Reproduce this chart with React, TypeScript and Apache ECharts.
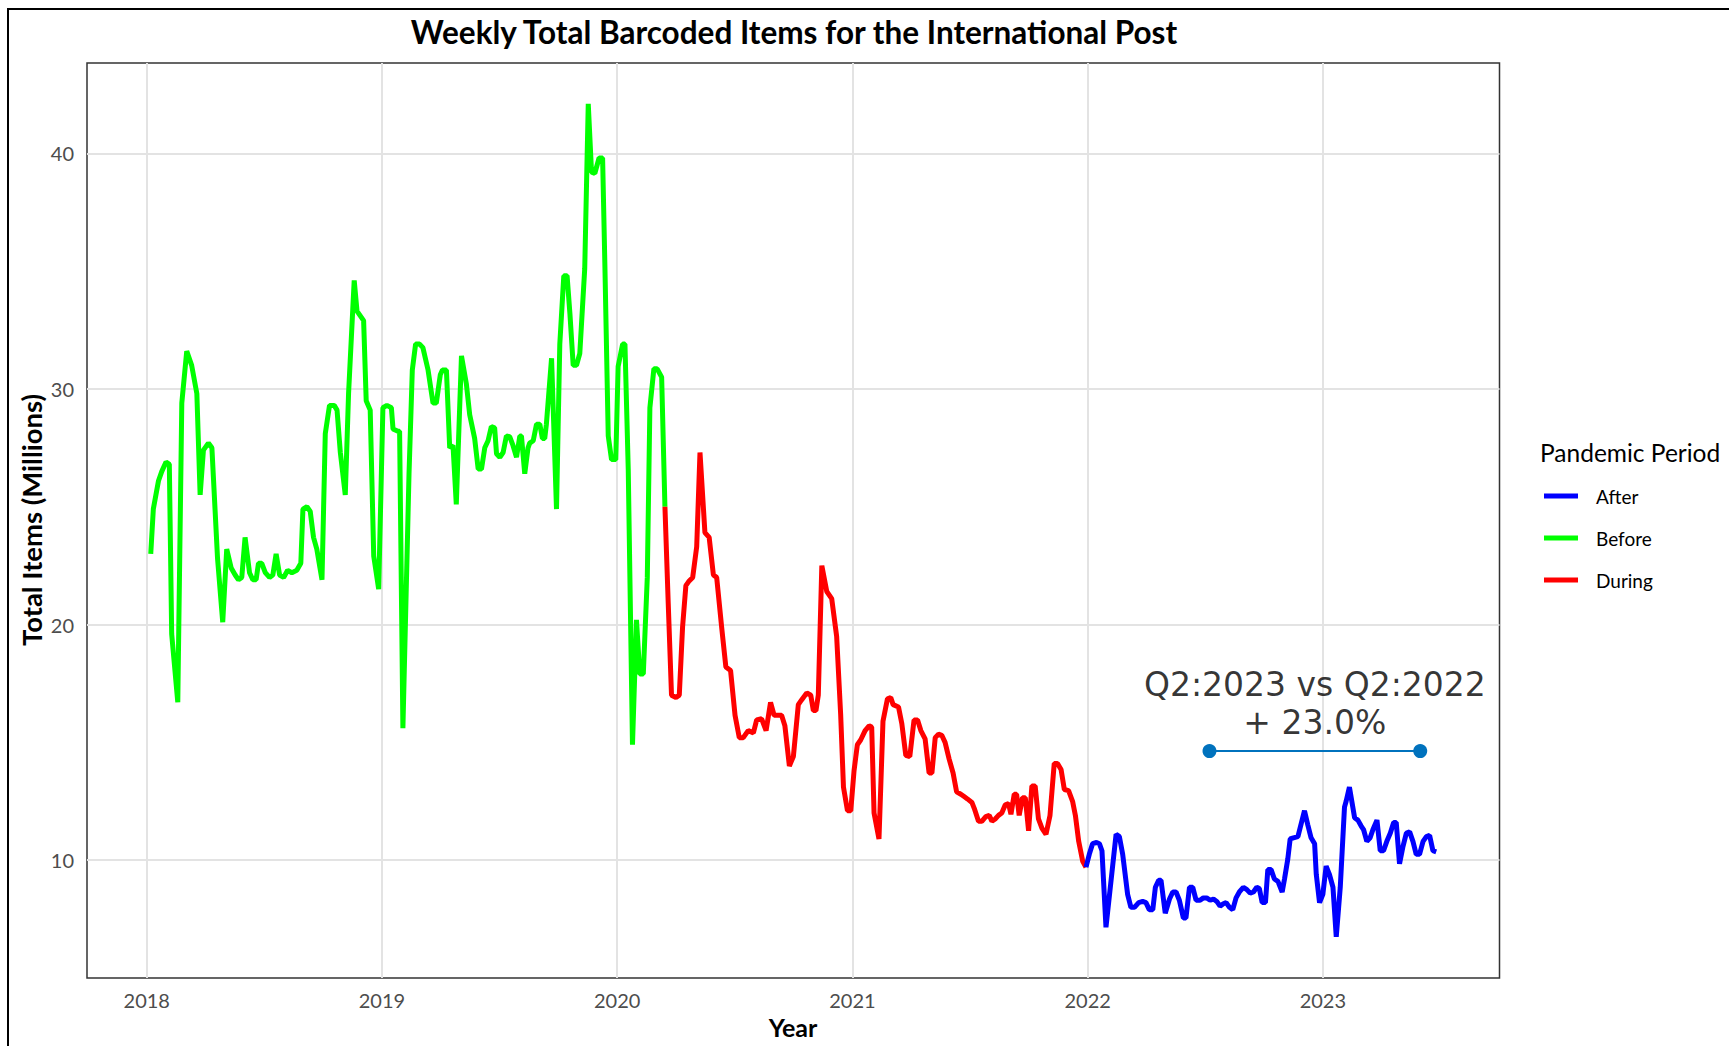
import React, { useEffect, useRef } from "react";
import * as echarts from "echarts";

// ---- Data ----
const beforeYears = [
  2018.017, 2018.028, 2018.05, 2018.064, 2018.082, 2018.096, 2018.106, 2018.132, 2018.149, 2018.17,
  2018.191, 2018.213, 2018.227, 2018.241, 2018.262, 2018.277, 2018.301, 2018.323, 2018.34, 2018.359,
  2018.376, 2018.39, 2018.404, 2018.418, 2018.437, 2018.451, 2018.465, 2018.475, 2018.489, 2018.504,
  2018.522, 2018.536, 2018.55, 2018.565, 2018.582, 2018.599, 2018.617, 2018.638, 2018.655, 2018.664,
  2018.681, 2018.695, 2018.709, 2018.723, 2018.745, 2018.759, 2018.777, 2018.797, 2018.809, 2018.823,
  2018.844, 2018.858, 2018.882, 2018.894, 2018.908, 2018.922, 2018.933, 2018.95, 2018.965, 2018.986,
  2019.004, 2019.021, 2019.04, 2019.047, 2019.068, 2019.075, 2019.089, 2019.115, 2019.129, 2019.143,
  2019.16, 2019.174, 2019.196, 2019.217, 2019.231, 2019.248, 2019.257, 2019.274, 2019.288, 2019.302,
  2019.316, 2019.338, 2019.359, 2019.373, 2019.394, 2019.409, 2019.423, 2019.437, 2019.451, 2019.465,
  2019.479, 2019.487, 2019.501, 2019.515, 2019.529, 2019.543, 2019.557, 2019.572, 2019.586, 2019.593,
  2019.607, 2019.621, 2019.628, 2019.643, 2019.657, 2019.671, 2019.682, 2019.692, 2019.699, 2019.721,
  2019.742, 2019.756, 2019.773, 2019.787, 2019.799, 2019.813, 2019.827, 2019.841, 2019.862, 2019.877,
  2019.891, 2019.905, 2019.923, 2019.938, 2019.948, 2019.962, 2019.976, 2019.994, 2020.004, 2020.023,
  2020.033, 2020.047, 2020.065, 2020.082, 2020.096, 2020.111, 2020.128, 2020.139, 2020.156, 2020.17,
  2020.189, 2020.203,
];
const beforeValues = [
  23.0, 24.9, 26.1, 26.5, 26.9, 26.8, 19.6, 16.7, 29.4, 31.6,
  31.0, 29.8, 25.5, 27.4, 27.7, 27.5, 22.8, 20.1, 23.2, 22.4,
  22.1, 21.9, 22.0, 23.7, 22.2, 21.9, 21.9, 22.6, 22.6, 22.2,
  22.0, 22.1, 23.0, 22.1, 22.0, 22.3, 22.2, 22.3, 22.6, 24.9,
  25.0, 24.8, 23.7, 23.2, 21.9, 28.1, 29.3, 29.3, 29.1, 27.3,
  25.5, 29.8, 34.6, 33.3, 33.1, 32.9, 29.5, 29.1, 22.9, 21.5,
  29.2, 29.3, 29.2, 28.3, 28.2, 28.2, 15.6, 26.4, 30.8, 31.9,
  31.9, 31.75, 30.8, 29.4, 29.4, 30.6, 30.8, 30.8, 27.5, 27.6,
  25.1, 31.4, 30.2, 28.9, 27.9, 26.6, 26.6, 27.5, 27.8, 28.4,
  28.35, 27.25, 27.1, 27.3, 28.0, 27.97, 27.6, 27.1, 28.0, 28.0,
  26.4, 27.5, 27.7, 27.8, 28.5, 28.5, 27.9, 27.9, 28.5, 31.3,
  24.9, 31.9, 34.8, 34.8, 33.2, 31.0, 31.0, 31.5, 35.1, 42.1,
  39.2, 39.15, 39.8, 39.8, 35.1, 28.0, 27.0, 27.0, 30.95, 31.9,
  31.9, 26.6, 14.9, 20.2, 17.9, 17.9, 22.0, 29.2, 30.85, 30.85,
  30.5, 25.0,
];

const duringYears = [
  2020.203, 2020.217, 2020.231, 2020.25, 2020.264, 2020.278, 2020.292, 2020.306, 2020.321, 2020.338,
  2020.352, 2020.373, 2020.391, 2020.409, 2020.423, 2020.444, 2020.462, 2020.482, 2020.501, 2020.519,
  2020.536, 2020.557, 2020.579, 2020.593, 2020.614, 2020.633, 2020.652, 2020.667, 2020.678, 2020.699,
  2020.713, 2020.732, 2020.749, 2020.77, 2020.784, 2020.806, 2020.823, 2020.834, 2020.845, 2020.855,
  2020.87, 2020.891, 2020.912, 2020.933, 2020.95, 2020.962, 2020.979, 2020.993, 2021.007, 2021.021,
  2021.035, 2021.054, 2021.071, 2021.082, 2021.092, 2021.113, 2021.13, 2021.149, 2021.163, 2021.173,
  2021.196, 2021.21, 2021.227, 2021.244, 2021.262, 2021.277, 2021.291, 2021.309, 2021.326, 2021.338,
  2021.352, 2021.366, 2021.38, 2021.394, 2021.411, 2021.428, 2021.443, 2021.461, 2021.475, 2021.489,
  2021.508, 2021.518, 2021.536, 2021.55, 2021.567, 2021.582, 2021.593, 2021.607, 2021.621, 2021.635,
  2021.65, 2021.664, 2021.674, 2021.688, 2021.698, 2021.709, 2021.723, 2021.735, 2021.749, 2021.763,
  2021.777, 2021.791, 2021.806, 2021.823, 2021.84, 2021.858, 2021.872, 2021.887, 2021.901, 2021.919,
  2021.936, 2021.948, 2021.962, 2021.979, 2021.993,
];
const duringValues = [
  25.0, 20.9, 17.0, 16.9, 17.0, 19.9, 21.65, 21.85, 22.0, 23.3,
  27.3, 23.9, 23.7, 22.1, 22.0, 19.9, 18.2, 18.05, 16.15, 15.2,
  15.2, 15.5, 15.4, 15.95, 16.0, 15.5, 16.7, 16.15, 16.15, 16.15,
  15.7, 14.0, 14.4, 16.6, 16.8, 17.1, 17.0, 16.35, 16.35, 17.0,
  22.5, 21.4, 21.1, 19.5, 16.2, 13.1, 12.1, 12.1, 13.8, 14.9,
  15.1, 15.5, 15.7, 15.65, 12.0, 10.9, 15.9, 16.85, 16.9, 16.6,
  16.5, 15.8, 14.45, 14.4, 15.95, 15.95, 15.5, 15.15, 13.7, 13.7,
  15.2, 15.35, 15.3, 15.0, 14.3, 13.7, 12.9, 12.8, 12.7, 12.6,
  12.45, 12.2, 11.65, 11.65, 11.85, 11.9, 11.65, 11.75, 11.9, 12.0,
  12.35, 12.4, 11.95, 12.8, 12.8, 11.9, 12.65, 12.65, 11.25, 13.15,
  13.15, 11.75, 11.35, 11.1, 11.9, 14.1, 14.1, 13.85, 13.0, 12.95,
  12.5, 11.9, 10.8, 9.95, 9.7,
];

const afterYears = [
  2021.993, 2022.007, 2022.021, 2022.038, 2022.05, 2022.061, 2022.078, 2022.121, 2022.135, 2022.149,
  2022.17, 2022.184, 2022.199, 2022.217, 2022.234, 2022.248, 2022.262, 2022.277, 2022.288, 2022.302,
  2022.312, 2022.33, 2022.348, 2022.362, 2022.376, 2022.39, 2022.407, 2022.418, 2022.433, 2022.447,
  2022.461, 2022.478, 2022.492, 2022.506, 2022.521, 2022.535, 2022.549, 2022.563, 2022.577, 2022.589,
  2022.603, 2022.617, 2022.631, 2022.645, 2022.662, 2022.677, 2022.691, 2022.705, 2022.719, 2022.73,
  2022.742, 2022.756, 2022.766, 2022.78, 2022.794, 2022.809, 2022.827, 2022.837, 2022.851, 2022.861,
  2022.875, 2022.894, 2022.908, 2022.922, 2022.936, 2022.95, 2022.965, 2022.972, 2022.986, 2023.0,
  2023.014, 2023.028, 2023.043, 2023.057, 2023.074, 2023.092, 2023.099, 2023.113, 2023.135, 2023.149,
  2023.163, 2023.173, 2023.187, 2023.201, 2023.213, 2023.23, 2023.244, 2023.258, 2023.272, 2023.287,
  2023.301, 2023.312, 2023.326, 2023.34, 2023.355, 2023.369, 2023.383, 2023.397, 2023.411, 2023.426,
  2023.44, 2023.454, 2023.468, 2023.482,
];
const afterValues = [
  9.7, 10.25, 10.7, 10.75, 10.7, 10.4, 7.15, 11.1, 11.0, 10.25,
  8.55, 8.0, 8.0, 8.2, 8.25, 8.2, 7.9, 7.9, 8.85, 9.15,
  9.15, 7.75, 8.35, 8.65, 8.65, 8.3, 7.55, 7.55, 8.85, 8.85,
  8.3, 8.3, 8.4, 8.4, 8.3, 8.35, 8.25, 8.05, 8.15, 8.2,
  8.0, 7.9, 8.4, 8.65, 8.85, 8.75, 8.6, 8.65, 8.85, 8.8,
  8.2, 8.2, 9.6, 9.6, 9.2, 9.1, 8.65, 9.2, 10.05, 10.9,
  10.95, 11.0, 11.55, 12.1, 11.5, 10.95, 10.7, 9.4, 8.2, 8.55,
  9.75, 9.4, 8.85, 6.75, 8.85, 12.25, 12.5, 13.1, 11.8, 11.7,
  11.45, 11.3, 10.8, 10.95, 11.3, 11.7, 10.4, 10.4, 10.8, 11.15,
  11.6, 11.6, 9.85, 10.55, 11.15, 11.2, 10.8, 10.25, 10.25, 10.8,
  11.0, 11.05, 10.4, 10.35,
];

// Comparison annotation (Q2:2022 -> Q2:2023)
const compareYears = [2022.518, 2023.414];
const compareValues = [14.63, 14.63];
const compareLabel = "Q2:2023 vs Q2:2022\n+ 23.0%";
const compareLabelPos = [2022.966, 16.67];

const periodNames = ["After", "Before", "During"];
const xTicks = [2018, 2019, 2020, 2021, 2022, 2023];
const yTicks = [10, 20, 30, 40];

const zip = (xs: number[], ys: number[]) => xs.map((x, i) => [x, ys[i]]);

const FONT = "Lato";

export default function App() {
  const ref = useRef<HTMLDivElement>(null);

  useEffect(() => {
    document.body.style.margin = "0";
    document.body.style.overflow = "hidden";
    if (!ref.current) return;
    const chart = echarts.init(ref.current, undefined, { renderer: "svg" });

    const lineSeries = (name: string, color: string, xs: number[], ys: number[]) => ({
      name,
      type: "line",
      data: zip(xs, ys),
      showSymbol: false,
      symbol: "none",
      lineStyle: { color, width: 5, join: "bevel", cap: "butt" },
      itemStyle: { color },
      silent: true,
    });

    chart.setOption({
      animation: false,
      backgroundColor: "#ffffff",
      textStyle: { fontFamily: FONT },
      grid: {
        left: 87,
        right: 229.5,
        top: 63,
        bottom: 68,
        show: true,
        borderColor: "#333333",
        borderWidth: 1.5,
        backgroundColor: "#ffffff",
        containLabel: false,
      },
      xAxis: {
        type: "value",
        min: 2017.746,
        max: 2023.751,
        axisLine: { show: false },
        axisTick: { show: false, customValues: xTicks },
        axisLabel: {
          customValues: xTicks,
          formatter: (v: number) => String(Math.round(v)),
          color: "#4D4D4D",
          fontSize: 20,
          fontFamily: FONT,
          margin: 12,
        },
        splitLine: { show: true, lineStyle: { color: "#E3E3E3", width: 2 } },
      },
      yAxis: {
        type: "value",
        min: 5.0,
        max: 43.83,
        axisLine: { show: false },
        axisTick: { show: false, customValues: yTicks },
        axisLabel: {
          customValues: yTicks,
          formatter: (v: number) => String(Math.round(v)),
          color: "#4D4D4D",
          fontSize: 20,
          fontFamily: FONT,
          margin: 13,
        },
        splitLine: { show: true, lineStyle: { color: "#E3E3E3", width: 2 } },
      },
      legend: {
        data: periodNames,
        orient: "vertical",
        left: 1544,
        top: 486,
        padding: 0,
        itemWidth: 34,
        itemHeight: 5,
        itemGap: 22,
        icon: "rect",
        selectedMode: false,
        textStyle: {
          fontFamily: FONT,
          fontSize: 19,
          lineHeight: 20,
          color: "#000000",
          padding: [0, 0, 0, 13],
        },
      },
      series: [
        lineSeries("Before", "#00FF00", beforeYears, beforeValues),
        lineSeries("During", "#FF0000", duringYears, duringValues),
        lineSeries("After", "#0000FF", afterYears, afterValues),
        {
          name: "Q2 comparison",
          type: "line",
          data: zip(compareYears, compareValues),
          symbol: "circle",
          symbolSize: 14,
          showSymbol: true,
          lineStyle: { color: "#0072BD", width: 2 },
          itemStyle: { color: "#0072BD" },
          silent: true,
          z: 5,
        },
        {
          name: "Q2 label",
          type: "scatter",
          data: [compareLabelPos],
          symbolSize: 0,
          silent: true,
          label: {
            show: true,
            position: "inside",
            formatter: compareLabel,
            fontFamily: "DejaVu Sans",
            fontSize: 33,
            lineHeight: 38,
            color: "#000000",
            align: "center",
          },
          z: 6,
        },
      ],
      graphic: [
        {
          type: "polyline",
          shape: { points: [[8, 1046], [8, 9], [1729, 9]] },
          style: { stroke: "#000000", lineWidth: 2, fill: null },
          silent: true,
        },
        {
          type: "text",
          x: 794,
          y: 32,
          style: {
            text: "Weekly Total Barcoded Items for the International Post",
            fontFamily: FONT,
            fontWeight: "bold",
            fontSize: 31.5,
            fill: "#000000",
            align: "center",
            verticalAlign: "middle",
          },
        },
        {
          type: "text",
          x: 793,
          y: 1027,
          style: {
            text: "Year",
            fontFamily: FONT,
            fontWeight: "bold",
            fontSize: 25,
            fill: "#000000",
            align: "center",
            verticalAlign: "middle",
          },
        },
        {
          type: "text",
          x: 31,
          y: 520,
          rotation: Math.PI / 2,
          style: {
            text: "Total Items (Millions)",
            fontFamily: FONT,
            fontWeight: "bold",
            fontSize: 27.5,
            fill: "#000000",
            align: "center",
            verticalAlign: "middle",
          },
        },
        {
          type: "text",
          x: 1540,
          y: 452,
          style: {
            text: "Pandemic Period",
            fontFamily: FONT,
            fontSize: 24.5,
            fill: "#000000",
            align: "left",
            verticalAlign: "middle",
          },
        },
      ],
    });

    return () => chart.dispose();
  }, []);

  return <div ref={ref} style={{ width: 1729, height: 1046 }} />;
}
